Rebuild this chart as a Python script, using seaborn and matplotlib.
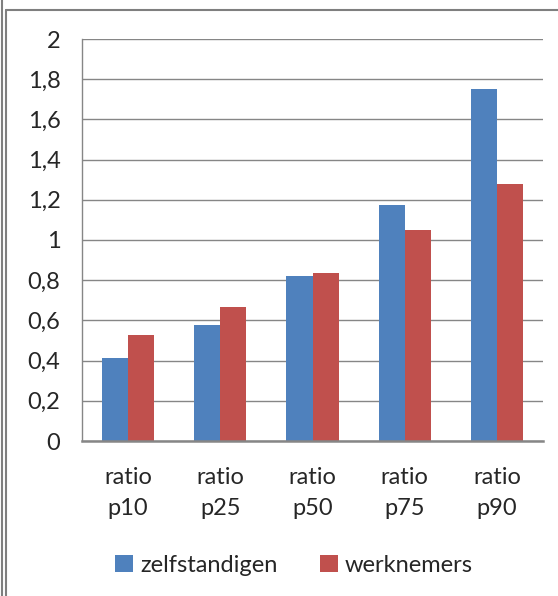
import numpy as np
import pandas as pd
import seaborn as sns
import matplotlib
matplotlib.use('Agg')
import matplotlib.pyplot as plt
from matplotlib.lines import Line2D
from matplotlib.ticker import FuncFormatter

categories = ['ratio\np10', 'ratio\np25', 'ratio\np50', 'ratio\np75', 'ratio\np90']
zelfstandigen = [0.413, 0.577, 0.821, 1.174, 1.751]
werknemers = [0.527, 0.667, 0.836, 1.050, 1.279]
series = ['zelfstandigen', 'werknemers']
colors = ['#4F81BD', '#C0504D']

df = pd.DataFrame({
    'cat': categories * 2,
    'value': zelfstandigen + werknemers,
    'groep': [series[0]] * 5 + [series[1]] * 5,
})

sns.set_style('white')
plt.rcParams['font.family'] = ['Lato', 'DejaVu Sans']

fig = plt.figure(figsize=(5.58, 5.96), dpi=100)
ax = fig.add_axes([82 / 558, 1 - 441 / 596, (543 - 82) / 558, (441 - 39) / 596])

sns.barplot(data=df, x='cat', y='value', hue='groep', palette=colors,
            width=0.565, gap=0, saturation=1, linewidth=0, ax=ax, legend=True)

grid_c = '#868686'
fs = 17
ax.set_ylim(0, 2)
ax.set_xlim(-0.5, 4.5)
ax.set_yticks(np.arange(0, 2.01, 0.2))
ax.yaxis.set_major_formatter(FuncFormatter(lambda v, p: ('%g' % round(v, 1)).replace('.', ',')))
ax.set_axisbelow(True)
ax.yaxis.grid(True, color=grid_c, linewidth=1.0)
ax.xaxis.grid(False)

ax.set_xticks(range(5))
ax.set_xticks(np.arange(-0.5, 4.6, 1), minor=True)
ax.tick_params(axis='x', which='major', length=0, pad=19, labelsize=fs)
ax.tick_params(axis='x', which='minor', length=6.5, width=1.2, color=grid_c, direction='out')
ax.tick_params(axis='y', length=6.5, width=1.0, color=grid_c, direction='out', labelsize=fs, pad=9)
for lbl in ax.get_xticklabels():
    lbl.set_linespacing(1.55)

for s in ['top', 'right']:
    ax.spines[s].set_visible(False)
ax.spines['left'].set_color(grid_c)
ax.spines['left'].set_linewidth(1.0)
ax.spines['bottom'].set_color(grid_c)
ax.spines['bottom'].set_linewidth(1.8)

ax.set_xlabel('')
ax.set_ylabel('')

handles, labels = ax.get_legend_handles_labels()
ax.legend_.remove()
fig.legend(handles, labels, loc='center', bbox_to_anchor=(0.527, 0.052), ncol=2,
           frameon=False, fontsize=fs, handlelength=0.75, handleheight=0.75,
           handletextpad=0.3, columnspacing=1.8)

# chart frame
fc = '#7f7f7f'
fig.add_artist(Line2D([2 / 558, 2 / 558], [0, 1], color=fc, lw=1.5, transform=fig.transFigure))
fig.add_artist(Line2D([6 / 558, 6 / 558], [0, 1 - 10 / 596], color=fc, lw=1.5, transform=fig.transFigure))
fig.add_artist(Line2D([6 / 558, 1], [1 - 10 / 596, 1 - 10 / 596], color=fc, lw=1.5, transform=fig.transFigure))

plt.savefig('out.png', dpi=100)
